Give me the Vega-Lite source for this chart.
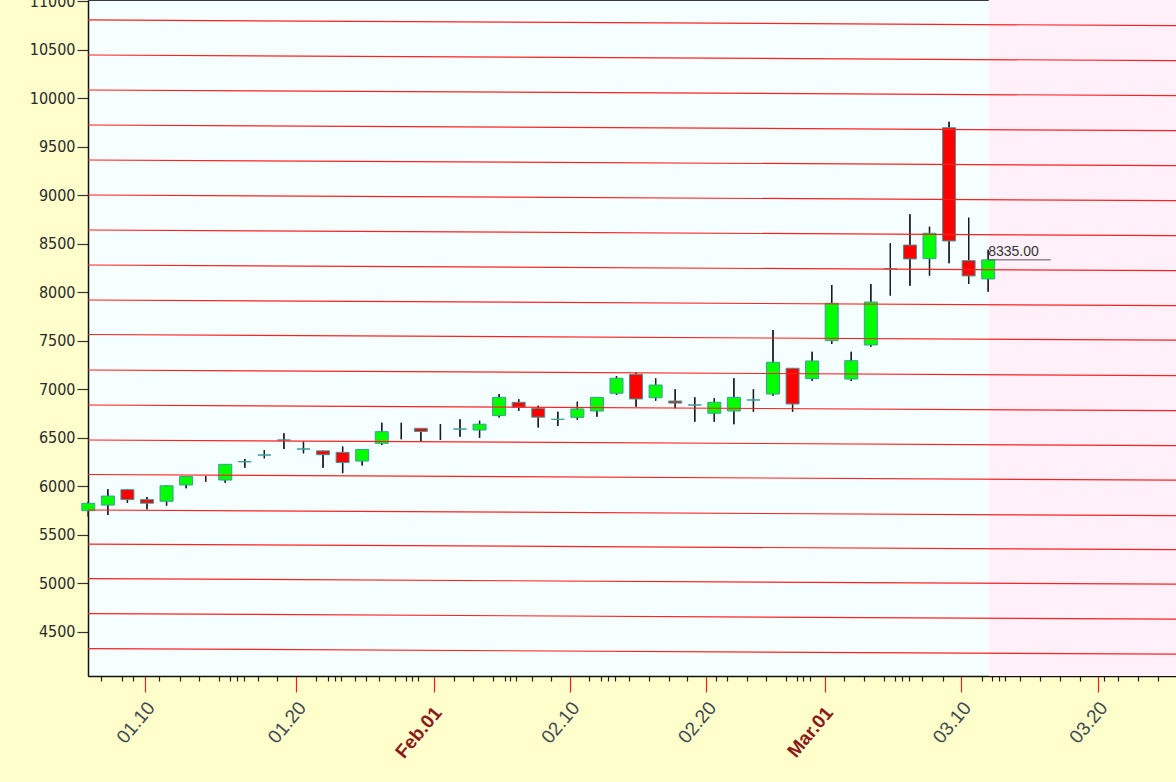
{
  "$schema": "https://vega.github.io/schema/vega-lite/v6.json",
  "width": 1088,
  "height": 676,
  "autosize": {"type": "none"},
  "padding": {"left": 88, "top": 0, "right": 0, "bottom": 106},
  "background": "#FFFFCC",
  "config": {
    "view": {"fill": "#F5FFFF", "stroke": "#3a3a3a", "strokeWidth": 1},
    "font": "Liberation Sans",
    "axis": {"labelOverlap": false, "labelFlush": false, "labelBound": false, "grid": false, "title": null},
    "axisX": {"tickCount": 300, "labelFont": "Liberation Sans", "labelFontSize": 19},
    "axisY": {"tickCount": 100, "labelFont": "DejaVu Sans Condensed, Liberation Sans", "labelFontSize": 16}
  },
  "datasets": {
    "candles": [
      {"i": 0, "open": 5748, "high": 5841, "low": 5687, "close": 5824},
      {"i": 1, "open": 5806, "high": 5969, "low": 5704, "close": 5899},
      {"i": 2, "open": 5965, "high": 5972, "low": 5830, "close": 5862},
      {"i": 3, "open": 5862, "high": 5890, "low": 5762, "close": 5825},
      {"i": 4, "open": 5845, "high": 6010, "low": 5800, "close": 6005},
      {"i": 5, "open": 6013, "high": 6105, "low": 5980, "close": 6100},
      {"i": 6, "open": null, "high": 6106, "low": 6047, "close": null},
      {"i": 7, "open": 6064, "high": 6230, "low": 6037, "close": 6226},
      {"i": 8, "open": 6253, "high": 6281, "low": 6192, "close": 6253},
      {"i": 9, "open": 6322, "high": 6374, "low": 6288, "close": 6322},
      {"i": 10, "open": 6477, "high": 6546, "low": 6384, "close": 6477},
      {"i": 11, "open": 6384, "high": 6460, "low": 6340, "close": 6384},
      {"i": 12, "open": 6365, "high": 6370, "low": 6190, "close": 6325},
      {"i": 13, "open": 6350, "high": 6410, "low": 6135, "close": 6245},
      {"i": 14, "open": 6260, "high": 6385, "low": 6215, "close": 6380},
      {"i": 15, "open": 6443, "high": 6655, "low": 6425, "close": 6563},
      {"i": 16, "open": null, "high": 6655, "low": 6484, "close": null},
      {"i": 17, "open": 6598, "high": 6600, "low": 6460, "close": 6565},
      {"i": 18, "open": null, "high": 6640, "low": 6477, "close": null},
      {"i": 19, "open": 6590, "high": 6690, "low": 6511, "close": 6590},
      {"i": 20, "open": 6580, "high": 6676, "low": 6500, "close": 6640},
      {"i": 21, "open": 6728, "high": 6951, "low": 6710, "close": 6917},
      {"i": 22, "open": 6866, "high": 6897, "low": 6776, "close": 6815},
      {"i": 23, "open": 6804, "high": 6830, "low": 6605, "close": 6712},
      {"i": 24, "open": 6690, "high": 6769, "low": 6622, "close": 6690},
      {"i": 25, "open": 6711, "high": 6872, "low": 6683, "close": 6797},
      {"i": 26, "open": 6776, "high": 6920, "low": 6718, "close": 6917},
      {"i": 27, "open": 6959, "high": 7137, "low": 6941, "close": 7114},
      {"i": 28, "open": 7155, "high": 7176, "low": 6820, "close": 6900},
      {"i": 29, "open": 6913, "high": 7113, "low": 6882, "close": 7044},
      {"i": 30, "open": 6879, "high": 7000, "low": 6804, "close": 6858},
      {"i": 31, "open": 6838, "high": 6917, "low": 6666, "close": 6838},
      {"i": 32, "open": 6753, "high": 6907, "low": 6666, "close": 6866},
      {"i": 33, "open": 6776, "high": 7113, "low": 6639, "close": 6917},
      {"i": 34, "open": 6890, "high": 7000, "low": 6769, "close": 6890},
      {"i": 35, "open": 6951, "high": 7612, "low": 6934, "close": 7279},
      {"i": 36, "open": 7217, "high": 7220, "low": 6769, "close": 6848},
      {"i": 37, "open": 7110, "high": 7388, "low": 7089, "close": 7292},
      {"i": 38, "open": 7501, "high": 8076, "low": 7467, "close": 7887},
      {"i": 39, "open": 7106, "high": 7388, "low": 7086, "close": 7295},
      {"i": 40, "open": 7457, "high": 8086, "low": 7440, "close": 7900},
      {"i": 41, "open": 8244, "high": 8506, "low": 7966, "close": 8244},
      {"i": 42, "open": 8488, "high": 8805, "low": 8069, "close": 8344},
      {"i": 43, "open": 8347, "high": 8677, "low": 8172, "close": 8609},
      {"i": 44, "open": 9698, "high": 9760, "low": 8300, "close": 8530},
      {"i": 45, "open": 8327, "high": 8770, "low": 8086, "close": 8169},
      {"i": 46, "open": 8138, "high": 8440, "low": 8007, "close": 8335}
    ],
    "channels": [
      {"x_from": -0.015, "x_to": 55.6, "v_from": 10809, "v_to": 10751},
      {"x_from": -0.015, "x_to": 55.6, "v_from": 10448, "v_to": 10390},
      {"x_from": -0.015, "x_to": 55.6, "v_from": 10087, "v_to": 10029},
      {"x_from": -0.015, "x_to": 55.6, "v_from": 9726, "v_to": 9668},
      {"x_from": -0.015, "x_to": 55.6, "v_from": 9365, "v_to": 9307},
      {"x_from": -0.015, "x_to": 55.6, "v_from": 9004, "v_to": 8946},
      {"x_from": -0.015, "x_to": 55.6, "v_from": 8643, "v_to": 8585},
      {"x_from": -0.015, "x_to": 55.6, "v_from": 8282, "v_to": 8224},
      {"x_from": -0.015, "x_to": 55.6, "v_from": 7921, "v_to": 7863},
      {"x_from": -0.015, "x_to": 55.6, "v_from": 7565, "v_to": 7507},
      {"x_from": -0.015, "x_to": 55.6, "v_from": 7199, "v_to": 7141},
      {"x_from": -0.015, "x_to": 55.6, "v_from": 6838, "v_to": 6780},
      {"x_from": -0.015, "x_to": 55.6, "v_from": 6477, "v_to": 6419},
      {"x_from": -0.015, "x_to": 55.6, "v_from": 6121, "v_to": 6063},
      {"x_from": -0.015, "x_to": 55.6, "v_from": 5755, "v_to": 5697},
      {"x_from": -0.015, "x_to": 55.6, "v_from": 5404, "v_to": 5346},
      {"x_from": -0.015, "x_to": 55.6, "v_from": 5048, "v_to": 4990},
      {"x_from": -0.015, "x_to": 55.6, "v_from": 4687, "v_to": 4629},
      {"x_from": -0.015, "x_to": 55.6, "v_from": 4326, "v_to": 4268}
    ],
    "lastprice": [
      {"x_from": 46, "x_to": 49.2, "price": 8335, "label": "8335.00"}
    ],
    "future": [
      {"start": 46.03, "end": 55.6}
    ]
  },
  "layer": [
    {
      "data": {"name": "candles"},
      "mark": {"type": "rule", "color": "#1a1a1a", "strokeWidth": 1.3},
      "encoding": {
        "x": {
          "field": "i", "type": "quantitative", "title": null,
          "scale": {"domain": [-0.015, 55.6], "nice": false, "zero": false, "padding": 0},
          "axis": {
            "title": null,
            "grid": false,
            "tickCount": 300,
            "values": [0.67, 1.73, 2.28, 2.88, 3.63, 4.69, 5.65, 6.7, 7.24, 7.61, 7.94, 8.67, 9.67, 10.62, 11.62, 12.23, 12.59, 12.9, 13.63, 14.18, 14.84, 15.68, 16.22, 16.55, 16.86, 17.65, 18.69, 19.66, 20.7, 21.3, 21.57, 21.88, 22.67, 23.63, 24.6, 25.62, 26.23, 26.59, 26.9, 27.65, 28.66, 29.66, 30.62, 31.58, 32.11, 32.67, 33.65, 34.66, 35.64, 36.24, 36.55, 36.91, 37.65, 38.63, 39.65, 40.68, 41.22, 41.59, 41.95, 42.64, 43.67, 44.61, 45.66, 46.21, 46.53, 46.88, 47.62, 48.65, 49.65, 50.68, 51.59, 51.91, 52.64, 53.64, 54.69],
            "labelExpr": "datum.value == 2.88 ? '01.10' : datum.value == 10.62 ? '01.20' : datum.value == 17.65 ? 'Feb.01' : datum.value == 24.6 ? '02.10' : datum.value == 31.58 ? '02.20' : datum.value == 37.65 ? 'Mar.01' : datum.value == 44.61 ? '03.10' : datum.value == 51.59 ? '03.20' : ''",
            "domainColor": "#111111",
            "domainWidth": 1.5,
            "tickColor": {"condition": {"test": "indexof([2.88,10.62,17.65,24.6,31.58,37.65,44.61,51.59], datum.value) >= 0", "value": "#FF1A1A"}, "value": "#222222"},
            "tickSize": {"condition": {"test": "indexof([2.88,10.62,17.65,24.6,31.58,37.65,44.61,51.59], datum.value) >= 0", "value": 16}, "value": 5},
            "tickWidth": 1.2,
            "labelAngle": -50,
            "labelAlign": "right",
            "labelBaseline": "middle",
            "labelFont": "Liberation Sans",
            "labelFontSize": 19,
            "labelColor": {"condition": {"test": "datum.value == 17.65 || datum.value == 37.65", "value": "#8B1A1A"}, "value": "#404850"},
            "labelFontWeight": {"condition": {"test": "datum.value == 17.65 || datum.value == 37.65", "value": "bold"}, "value": "normal"},
            "labelPadding": {"condition": {"test": "datum.value == 17.65 || datum.value == 37.65", "value": 17}, "value": 12},
            "labelOffset": {"condition": {"test": "datum.value == 17.65 || datum.value == 37.65", "value": 4}, "value": 6},
            "labelOverlap": false,
            "labelFlush": false,
            "labelBound": false
          }
        },
        "y": {
          "field": "low", "type": "quantitative", "title": null,
          "scale": {"domain": [4043, 11015], "nice": false, "zero": false},
          "axis": {
            "title": null,
            "grid": false,
            "tickCount": 100,
            "values": [4500, 5000, 5500, 6000, 6500, 7000, 7500, 8000, 8500, 9000, 9500, 10000, 10500, 11000],
            "format": "d",
            "domainColor": "#111111",
            "domainWidth": 1.5,
            "tickColor": "#333333",
            "tickSize": 11,
            "tickWidth": 1.2,
            "labelFont": "DejaVu Sans Condensed, Liberation Sans",
            "labelFontSize": 16,
            "labelColor": "#2a2a2a",
            "labelPadding": 2,
            "labelOverlap": false,
            "labelFlush": false,
            "labelBound": false
          }
        },
        "y2": {"field": "high"}
      }
    },
    {
      "data": {"name": "future"},
      "mark": {"type": "rect", "color": "#FFF0FA"},
      "encoding": {
        "x": {"field": "start", "type": "quantitative", "title": null},
        "x2": {"field": "end"}
      }
    },
    {
      "data": {"name": "candles"},
      "mark": {"type": "rule", "color": "#1a1a1a", "strokeWidth": 1.3},
      "encoding": {
        "x": {"field": "i", "type": "quantitative", "title": null},
        "y": {"field": "low", "type": "quantitative", "title": null},
        "y2": {"field": "high"}
      }
    },
    {
      "data": {"name": "candles"},
      "mark": {"type": "bar", "size": 13, "stroke": "#3C9C9C", "strokeWidth": 1},
      "encoding": {
        "x": {"field": "i", "type": "quantitative", "title": null},
        "y": {"field": "open", "type": "quantitative", "title": null},
        "y2": {"field": "close"},
        "fill": {"condition": {"test": "datum.close < datum.open", "value": "#FF0000"}, "value": "#00FF00"}
      }
    },
    {
      "data": {"name": "channels"},
      "mark": {"type": "rule", "color": "#FF2020", "strokeWidth": 1.2},
      "encoding": {
        "x": {"field": "x_from", "type": "quantitative", "title": null},
        "x2": {"field": "x_to"},
        "y": {"field": "v_from", "type": "quantitative", "title": null},
        "y2": {"field": "v_to"}
      }
    },
    {
      "data": {"name": "lastprice"},
      "mark": {"type": "rule", "color": "#555555", "strokeWidth": 1},
      "encoding": {
        "x": {"field": "x_from", "type": "quantitative", "title": null},
        "x2": {"field": "x_to"},
        "y": {"field": "price", "type": "quantitative", "title": null}
      }
    },
    {
      "data": {"name": "lastprice"},
      "mark": {"type": "text", "align": "left", "baseline": "alphabetic", "dx": 0, "dy": -3.5, "font": "Liberation Sans", "fontSize": 14, "color": "#333333"},
      "encoding": {
        "x": {"field": "x_from", "type": "quantitative", "title": null},
        "y": {"field": "price", "type": "quantitative", "title": null},
        "text": {"field": "label"}
      }
    }
  ]
}
